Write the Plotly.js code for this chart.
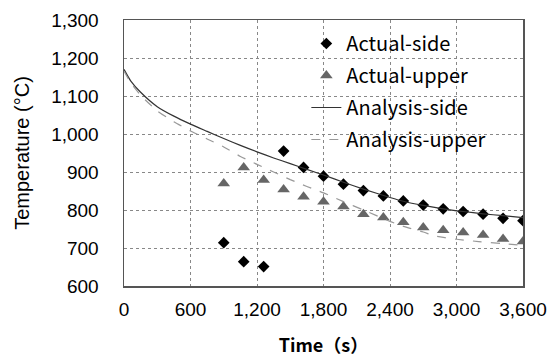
<!DOCTYPE html>
<html>
<head>
<meta charset="utf-8">
<script src="https://cdn.plot.ly/plotly-3.0.1.min.js"></script>
<style>html,body{margin:0;padding:0;background:#fff;}#chart{width:551px;height:358px;}</style>
</head>
<body>
<div id="chart"></div>
<script>
// Measured points (every 180 s)
const actualTime = [900, 1080, 1260, 1440, 1620, 1800, 1980, 2160, 2340, 2520, 2700, 2880, 3060, 3240, 3420, 3600];
const actualSide = [714, 664, 651, 955, 912, 889, 868, 851, 837, 824, 813, 803, 796, 789, 778, 772];
const actualUpper = [870, 912, 879, 854, 835, 822, 809, 789, 780, 768, 754, 747, 741, 734, 724, 717];

// Analysis curves
const sideTime = [0, 60, 150, 300, 450, 600, 750, 900, 1050, 1200, 1350, 1500, 1650, 1800, 1980, 2160, 2400, 2520, 2700, 2880, 3060, 3240, 3420, 3600];
const analysisSide = [1170, 1140, 1110, 1072, 1047, 1026, 1007, 988, 970, 953, 937, 922, 907, 892, 873, 855, 833, 823, 812, 803, 796, 790, 785, 780];
const upperTime = [0, 60, 150, 300, 450, 600, 750, 900, 1050, 1200, 1350, 1500, 1650, 1800, 1980, 2160, 2400, 2520, 2700, 2800, 2900, 3000, 3200, 3400, 3600];
const analysisUpper = [1166, 1135, 1102, 1061, 1032, 1008, 987, 966, 941, 920, 900, 880, 862, 845, 822, 800, 770, 757, 742, 732, 727, 723, 717, 712, 707];

const xTicks = [0, 600, 1200, 1800, 2400, 3000, 3600];
const xTickText = ['0', '600', '1,200', '1,800', '2,400', '3,000', '3,600'];
const yTicks = [600, 700, 800, 900, 1000, 1100, 1200, 1300];
const yTickText = ['600', '700', '800', '900', '1,000', '1,100', '1,200', '1,300'];

const traces = [
  {x: actualTime, y: actualSide, name: 'Actual-side', mode: 'markers', type: 'scatter', legendgroup: 'a',
   marker: {symbol: 'diamond', size: 9, color: '#000'}},
  {x: actualTime, y: actualUpper, name: 'Actual-upper', mode: 'markers', type: 'scatter', legendgroup: 'b',
   marker: {symbol: 'triangle-up', size: 11, color: '#666'}},
  {x: sideTime, y: analysisSide, name: 'Analysis-side', mode: 'lines', type: 'scatter', legendgroup: 'c',
   line: {color: '#333', width: 1.2, shape: 'spline', smoothing: 0.6}},
  {x: upperTime, y: analysisUpper, name: 'Analysis-upper', mode: 'lines', type: 'scatter', legendgroup: 'd',
   line: {color: '#999', width: 1.2, dash: 'dash', shape: 'spline', smoothing: 0.6}}
];

const layout = {
  width: 551, height: 358,
  margin: {l: 124, r: 28, t: 20, b: 72},
  paper_bgcolor: '#fff', plot_bgcolor: '#fff',
  font: {family: 'Liberation Sans, Arial, sans-serif', size: 19, color: '#000'},
  showlegend: true,
  legend: {
    x: 0.457, y: 0.985, xanchor: 'left', yanchor: 'top',
    bgcolor: 'rgba(0,0,0,0)', borderwidth: 0,
    font: {family: 'Noto Sans CJK JP, sans-serif', size: 20, color: '#000'},
    traceorder: 'grouped', tracegroupgap: 3, itemsizing: 'trace'
  },
  xaxis: {
    range: [0, 3600], tickvals: xTicks, ticktext: xTickText,
    showgrid: true, gridcolor: '#888', griddash: 'dot', gridwidth: 1,
    showline: true, linecolor: '#555', linewidth: 1.5, mirror: true,
    ticks: '', ticklabelstandoff: 6, zeroline: false,
    tickfont: {family: 'Liberation Sans, Arial, sans-serif', size: 19},
    title: {text: 'Time（s）', standoff: 20,
      font: {family: 'Noto Sans CJK JP, sans-serif', size: 18, weight: 'bold'}}
  },
  yaxis: {
    range: [600, 1300], tickvals: yTicks, ticktext: yTickText,
    showgrid: true, gridcolor: '#888', griddash: 'dot', gridwidth: 1,
    showline: true, linecolor: '#555', linewidth: 1.5, mirror: true,
    ticks: '', ticklabelstandoff: 20, zeroline: false,
    tickfont: {family: 'Liberation Sans, Arial, sans-serif', size: 19},
    title: {text: 'Temperature (°C)', standoff: 16,
      font: {family: 'Liberation Sans, Arial, sans-serif', size: 20}}
  }
};

Plotly.newPlot('chart', traces, layout, {displayModeBar: false, staticPlot: true});
</script>
</body>
</html>
